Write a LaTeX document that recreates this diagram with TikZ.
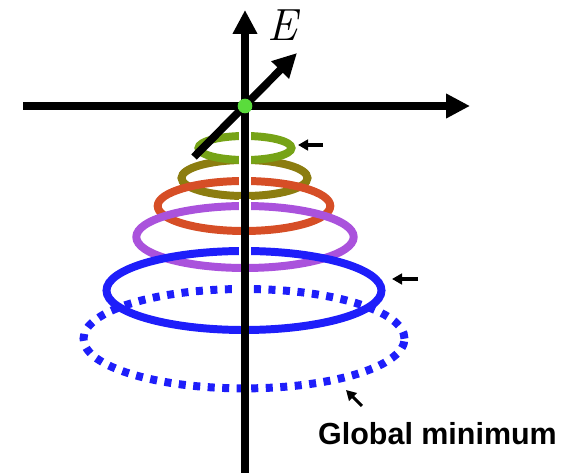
\documentclass[tikz,border=0pt]{standalone}
\usepackage{fontspec}
\setsansfont{Liberation Sans}
\usetikzlibrary{arrows.meta,positioning,shapes.geometric}
\definecolor{RingGreen}{HTML}{76A317}
\definecolor{RingOlive}{HTML}{8C7D10}
\definecolor{RingOrange}{HTML}{D64E26}
\definecolor{RingPurple}{HTML}{AA52DC}
\definecolor{RingBlue}{HTML}{1E1EFA}
\definecolor{DotGreen}{HTML}{5ADC3C}

\begin{document}
\begin{tikzpicture}[x=0.03cm,y=0.03cm,
    axis/.style={line width=6.6pt,black},
    bigtip/.style={-{Triangle[length=0.72cm,width=0.7cm]}},
    ring/.style={line width=6.8pt},
    gap/.style={axis,preaction={draw=white,line width=10.5pt}},
    pointer/.style={line width=2.6pt,-{Triangle[length=0.3cm,width=0.32cm]}}]
    \useasboundingbox (0,0) rectangle (576,473);
    % rings
    \draw[ring,RingBlue,dash pattern=on 6pt off 6.4pt] (244,134.3) ellipse [x radius=160.5,y radius=49.7];
    \draw[ring,RingOlive] (244.5,295) ellipse [x radius=63,y radius=18];
    \draw[ring,RingGreen] (245,325) ellipse [x radius=46.5,y radius=12];
    \draw[ring,RingOrange] (244,267) ellipse [x radius=86.3,y radius=25];
    \draw[ring,RingPurple] (245,236) ellipse [x radius=108.7,y radius=31];
    \draw[ring,RingBlue] (244,182.5) ellipse [x radius=137.5,y radius=39.5];
    % axes
    \coordinate (O) at (245,367);
    \coordinate (bot) at (245,0);
    \coordinate (top) at (245,463);
    \coordinate (left) at (23,367);
    \coordinate (right) at (470,367);
    \coordinate (tail) at (194,316);
    \coordinate (head) at (297,420);
    \draw[axis,bigtip] (bot) -- (top);
    \foreach \yb in {337,313,292,267,222,184}
      \draw[gap] (245,\yb-7) -- (245,\yb+7);
    \draw[axis,bigtip] (left) -- (right);
    \draw[axis,bigtip] (tail) -- (head);
    \node[circle,fill=DotGreen,minimum size=0.44cm,inner sep=0pt] (origin) at (O) {};
    \node[font=\rmfamily\itshape\fontsize{38.5}{40}\selectfont] (elabel) at (282,447.5) {E};
    % pointers
    \coordinate (p1) at (323,328);
    \coordinate (q1) at (298,328);
    \coordinate (p2) at (418,194);
    \coordinate (q2) at (392,194);
    \coordinate (p3) at (362,67);
    \coordinate (q3) at (346,83);
    \draw[pointer] (p1) -- (q1);
    \draw[pointer] (p2) -- (q2);
    \draw[pointer] (p3) -- (q3);
    \node[anchor=base,font=\sffamily\bfseries\fontsize{26}{28}\selectfont] (gmin) at (437.5,28) {Global minimum};
\end{tikzpicture}
\end{document}
